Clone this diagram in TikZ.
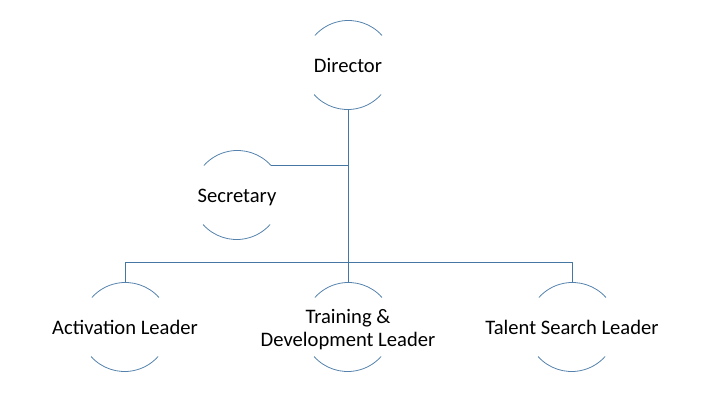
\documentclass[tikz,border=0pt]{standalone}
\usepackage{fontspec}
\setmainfont{Carlito}
\definecolor{lineblue}{RGB}{70,118,162}
\definecolor{arcblue}{RGB}{84,130,172}
\tikzset{
 person/.style={circle, minimum size=90bp, inner sep=0pt, outer sep=0pt},
 arcline/.style={draw=arcblue, line width=0.8pt},
 conn/.style={draw=lineblue, line width=0.95pt},
 lbl/.style={font=\fontsize{20.6bp}{23.5bp}\selectfont, align=center, text=black, inner sep=0pt, yshift=-2.5bp},
}
\newcommand\mkarcs[1]{%
 \draw[arcline] (#1.41.81) arc[start angle=41.81, end angle=138.19, radius=45bp];
 \draw[arcline] (#1.221.81) arc[start angle=221.81, end angle=318.19, radius=45bp];}
\begin{document}
\begin{tikzpicture}
\useasboundingbox (0,0) rectangle (717bp,411bp);
\node[person, label={[lbl]center:\strut Director}] (dir) at (348bp,346bp) {};
\node[person, label={[lbl]center:\strut Secretary}] (sec) at (237bp,216bp) {};
\node[person, label={[lbl]center:\strut Activation Leader}] (act) at (125bp,84bp) {};
\node[person, label={[lbl]center:Training \&\\Development Leader}] (tr) at (348bp,84bp) {};
\node[person, label={[lbl]center:\strut Talent Search Leader}] (tal) at (572bp,84bp) {};
\mkarcs{dir}\mkarcs{sec}\mkarcs{act}\mkarcs{tr}\mkarcs{tal}
\draw[conn] (dir.south) -- (tr.north);
\draw[conn] (act.north) -- ++(0,20bp) -| (tal.north);
\draw[conn] (sec.41.81) -- (sec.41.81 -| dir.south);
\end{tikzpicture}
\end{document}
